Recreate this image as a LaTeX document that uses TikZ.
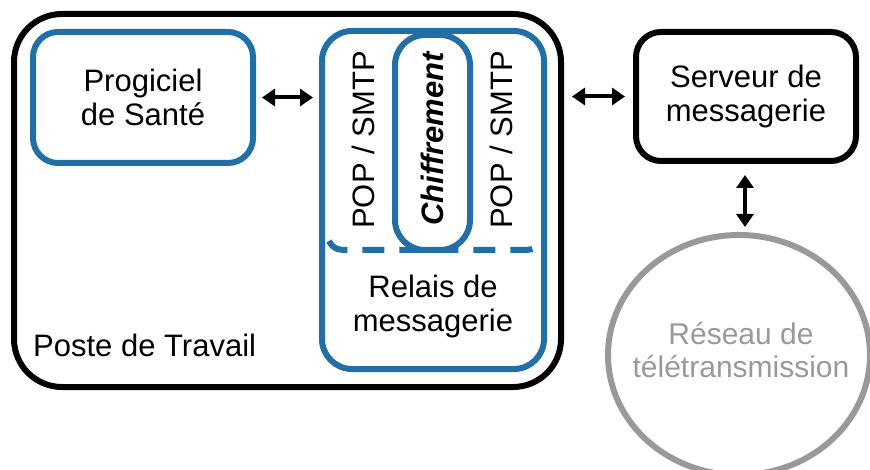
\documentclass[tikz,border=0pt]{standalone}
\usepackage{fontspec}
\setmainfont{Liberation Sans}
\usetikzlibrary{arrows.meta,shapes.geometric,calc}
\definecolor{boxblue}{RGB}{34,110,166}
\definecolor{netgray}{RGB}{153,153,153}
\tikzset{
  lbl/.style={font=\fontsize{31}{34}\selectfont, align=center, inner sep=0pt},
  bluebox/.style={draw=boxblue, line width=6pt, fill=white, inner sep=0pt, outer sep=0pt},
  blackbox/.style={draw=black, line width=6pt, inner sep=0pt, outer sep=0pt},
  link/.style={line width=4pt, {Triangle[length=13pt,width=17pt]}-{Triangle[length=13pt,width=17pt]}},
}
\begin{document}
\begin{tikzpicture}[x=1pt,y=-1pt]
\useasboundingbox (0,0) rectangle (870,470);

% workstation frame
\node[blackbox, rounded corners=48pt, minimum width=547pt, minimum height=373pt] (poste) at (287.5,200.5) {};
\node[lbl, anchor=base west] (postelbl) at (33,356) {Poste de Travail};

% health software
\node[bluebox, rounded corners=25pt, minimum width=220pt, minimum height=131pt, lbl] (progiciel) at (143,97.5) {Progiciel\\de Santé};

% mail relay
\node[bluebox, rounded corners=30pt, minimum width=222pt, minimum height=338pt] (relais) at (433,200) {};
\node[lbl] (relaislbl) at (433,306) {Relais de\\messagerie};

% dashed separator under the protocol layer
\coordinate (dl) at (329,241);
\coordinate (dr) at (541,241);
\draw[boxblue, line width=6pt, dash pattern=on 22pt off 15pt]
  (dl) .. controls (333,249) and (338,250) .. (348,250) -- (522,250)
  .. controls (532,250) and (537,249) .. (dr);

% protocol labels
\node[lbl, rotate=90] (popl) at (363,140) {POP / SMTP};
\node[lbl, rotate=90] (popr) at (501,140) {POP / SMTP};

% encryption layer
\node[bluebox, rounded corners=30pt, minimum width=75pt, minimum height=215pt] (chiffr) at (432.5,142.5) {};
\node[lbl, rotate=90, font=\fontsize{31}{34}\selectfont\bfseries\itshape] (chiffrlbl) at (432,139) {Chiffrement};

% mail server
\node[blackbox, rounded corners=25pt, minimum width=220pt, minimum height=129pt, lbl] (serveur) at (746,96.5) {Serveur de\\messagerie};

% transmission network
\node[ellipse, draw=netgray, line width=6pt, minimum width=262pt, minimum height=240pt, inner sep=0pt, outer sep=0pt] (reseau) at (739,355) {};
\node[lbl, text=netgray, font=\fontsize{30}{33}\selectfont] (reseaulbl) at (741,350) {Réseau de\\télétransmission};

% connectors
\draw[link, shorten <=9pt, shorten >=9pt] (progiciel.east) -- (progiciel.east -| relais.west);
\draw[link, shorten <=11pt, shorten >=11pt] (poste.east |- serveur.west) -- (serveur.west);
\draw[link, shorten <=14pt, shorten >=8pt] ([xshift=-1pt]serveur.south) -- ([xshift=-1pt]serveur.south |- reseau.north);
\end{tikzpicture}
\end{document}
